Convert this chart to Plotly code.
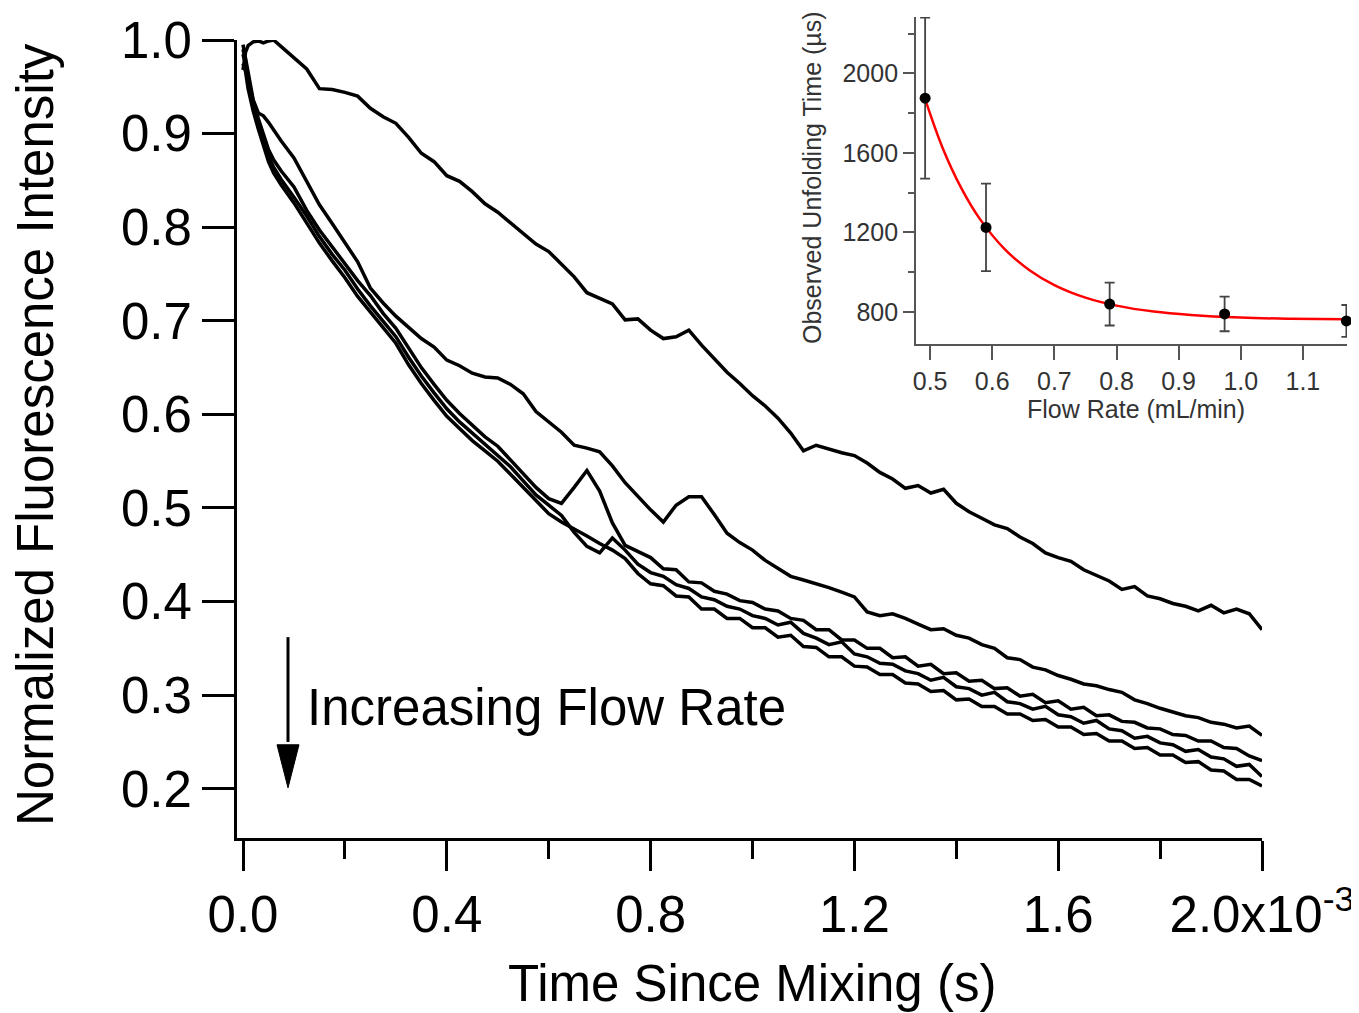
import plotly.graph_objects as go

FONT = "Liberation Sans, Arial, Helvetica, sans-serif"

# time since mixing, ms (axis shows seconds with the x10^-3 factor)
TIME_MS = [0, 0.005, 0.01, 0.02, 0.03, 0.04, 0.05, 0.06, 0.075,
           0.1, 0.125, 0.15, 0.175, 0.2, 0.225, 0.25, 0.275, 0.3, 0.325,
           0.35, 0.375, 0.4, 0.425, 0.45, 0.475, 0.5, 0.525, 0.55, 0.575,
           0.6, 0.625, 0.65, 0.675, 0.7, 0.725, 0.75, 0.775, 0.8, 0.825,
           0.85, 0.875, 0.9, 0.925, 0.95, 0.975, 1.0, 1.025, 1.05, 1.075,
           1.1, 1.125, 1.15, 1.175, 1.2, 1.225, 1.25, 1.275, 1.3, 1.325,
           1.35, 1.375, 1.4, 1.425, 1.45, 1.475, 1.5, 1.525, 1.55, 1.575,
           1.6, 1.625, 1.65, 1.675, 1.7, 1.725, 1.75, 1.775, 1.8, 1.825,
           1.85, 1.875, 1.9, 1.925, 1.95, 1.975, 2.0]

# normalized fluorescence, slowest flow first
TRACE_1 = [0.968, 0.987, 0.994, 0.998, 0.999, 0.997, 0.999, 1.000, 0.993,
           0.981, 0.969, 0.948, 0.947, 0.944, 0.940, 0.927, 0.918, 0.911, 0.896,
           0.879, 0.870, 0.855, 0.849, 0.838, 0.825, 0.816, 0.805, 0.793, 0.782,
           0.774, 0.760, 0.747, 0.730, 0.724, 0.718, 0.701, 0.702, 0.690, 0.681,
           0.683, 0.690, 0.674, 0.659, 0.645, 0.633, 0.620, 0.609, 0.596, 0.580,
           0.561, 0.567, 0.563, 0.559, 0.556, 0.548, 0.538, 0.531, 0.521, 0.524,
           0.516, 0.520, 0.505, 0.496, 0.489, 0.482, 0.478, 0.469, 0.462, 0.452,
           0.447, 0.443, 0.434, 0.428, 0.422, 0.413, 0.416, 0.406, 0.403, 0.398,
           0.395, 0.390, 0.396, 0.388, 0.392, 0.387, 0.370]
TRACE_2 = [0.995, 0.979, 0.963, 0.936, 0.922, 0.919, 0.912, 0.904, 0.892,
           0.874, 0.848, 0.824, 0.804, 0.784, 0.763, 0.735, 0.719, 0.705, 0.693,
           0.681, 0.672, 0.658, 0.652, 0.644, 0.640, 0.639, 0.632, 0.622, 0.603,
           0.592, 0.581, 0.567, 0.564, 0.560, 0.545, 0.527, 0.512, 0.498, 0.485,
           0.503, 0.512, 0.512, 0.493, 0.473, 0.463, 0.455, 0.444, 0.436, 0.427,
           0.423, 0.419, 0.415, 0.410, 0.405, 0.389, 0.385, 0.387, 0.382, 0.376,
           0.370, 0.371, 0.364, 0.361, 0.354, 0.350, 0.340, 0.338, 0.330, 0.327,
           0.321, 0.317, 0.312, 0.310, 0.306, 0.303, 0.295, 0.291, 0.286, 0.282,
           0.278, 0.276, 0.271, 0.269, 0.265, 0.267, 0.257]
TRACE_3 = [0.990, 0.978, 0.959, 0.934, 0.916, 0.898, 0.883, 0.872, 0.860,
           0.843, 0.818, 0.797, 0.779, 0.762, 0.743, 0.727, 0.708, 0.692, 0.671,
           0.650, 0.632, 0.615, 0.601, 0.588, 0.576, 0.566, 0.551, 0.537, 0.522,
           0.510, 0.505, 0.522, 0.540, 0.518, 0.484, 0.460, 0.453, 0.447, 0.435,
           0.434, 0.421, 0.420, 0.411, 0.408, 0.401, 0.399, 0.392, 0.390, 0.382,
           0.380, 0.370, 0.370, 0.359, 0.359, 0.350, 0.350, 0.340, 0.341, 0.331,
           0.333, 0.323, 0.324, 0.315, 0.316, 0.307, 0.308, 0.299, 0.301, 0.292,
           0.294, 0.285, 0.287, 0.278, 0.279, 0.272, 0.271, 0.265, 0.264, 0.258,
           0.257, 0.251, 0.251, 0.244, 0.243, 0.235, 0.230]
TRACE_4 = [0.985, 0.973, 0.954, 0.929, 0.910, 0.892, 0.876, 0.864, 0.851,
           0.832, 0.812, 0.790, 0.771, 0.754, 0.734, 0.716, 0.700, 0.683, 0.661,
           0.641, 0.623, 0.606, 0.592, 0.580, 0.568, 0.557, 0.544, 0.529, 0.514,
           0.503, 0.492, 0.474, 0.459, 0.452, 0.468, 0.455, 0.440, 0.431, 0.427,
           0.418, 0.414, 0.405, 0.402, 0.395, 0.392, 0.385, 0.382, 0.375, 0.378,
           0.366, 0.361, 0.354, 0.357, 0.344, 0.341, 0.334, 0.333, 0.326, 0.323,
           0.316, 0.319, 0.309, 0.307, 0.300, 0.303, 0.293, 0.291, 0.285, 0.288,
           0.279, 0.277, 0.270, 0.273, 0.264, 0.262, 0.254, 0.256, 0.249, 0.247,
           0.240, 0.242, 0.234, 0.232, 0.224, 0.226, 0.213]
TRACE_5 = [0.975, 0.966, 0.948, 0.924, 0.905, 0.886, 0.870, 0.858, 0.845,
           0.826, 0.805, 0.783, 0.764, 0.746, 0.726, 0.709, 0.692, 0.676, 0.653,
           0.633, 0.615, 0.598, 0.585, 0.572, 0.561, 0.550, 0.536, 0.522, 0.507,
           0.494, 0.485, 0.478, 0.470, 0.462, 0.455, 0.446, 0.430, 0.419, 0.417,
           0.406, 0.405, 0.392, 0.392, 0.382, 0.382, 0.372, 0.372, 0.362, 0.364,
           0.352, 0.351, 0.341, 0.341, 0.331, 0.330, 0.322, 0.322, 0.313, 0.312,
           0.304, 0.305, 0.295, 0.296, 0.288, 0.288, 0.280, 0.280, 0.273, 0.274,
           0.266, 0.266, 0.258, 0.259, 0.251, 0.251, 0.243, 0.244, 0.236, 0.236,
           0.228, 0.229, 0.220, 0.219, 0.210, 0.210, 0.203]

X_TICKS = [0, 0.4, 0.8, 1.2, 1.6, 2.0]
X_TICK_TEXT = ["0.0", "0.4", "0.8", "1.2", "1.6", "2.0x10<sup>-3</sup>"]
X_MINOR = [0.2, 0.6, 1.0, 1.4, 1.8]
Y_TICKS = [0.2, 0.3, 0.4, 0.5, 0.6, 0.7, 0.8, 0.9, 1.0]

# inset: observed unfolding time vs flow rate
FLOW = [0.492, 0.590, 0.789, 0.974, 1.170]
TAU_US = [1875, 1225, 840, 790, 755]
TAU_ERR = [405, 220, 108, 87, 80]
FIT_FLOW = [0.492, 0.52, 0.55, 0.58, 0.62, 0.66, 0.70, 0.75, 0.80, 0.86,
            0.92, 1.00, 1.08, 1.17]
FIT_TAU = [1870, 1626, 1424, 1268, 1116, 1010, 935, 872, 832, 802,
           785, 772, 766, 763]

W, H = 1359, 1013
PAGE = 8  # the html body's default margin shifts the figure on screen

# plot-area box in screen pixels
BOX_L, BOX_R, BOX_T, BOX_B = 237, 1349, 10, 838
M_L, M_T = BOX_L - PAGE, BOX_T - PAGE
M_R, M_B = W - (BOX_R - PAGE), H - (BOX_B - PAGE)
PW, PH = BOX_R - BOX_L, BOX_B - BOX_T


def px(x):
    return (x - BOX_L) / PW


def py(y):
    return (BOX_B - y) / PH


fig = go.Figure()
for tr in (TRACE_1, TRACE_2, TRACE_3, TRACE_4, TRACE_5):
    fig.add_trace(go.Scatter(x=TIME_MS, y=tr, mode="lines",
                             line=dict(color="black", width=3.5),
                             xaxis="x", yaxis="y", showlegend=False))

fig.add_trace(go.Scatter(x=FIT_FLOW, y=FIT_TAU, mode="lines",
                         line=dict(color="#ff0000", width=2.5, shape="spline"),
                         xaxis="x2", yaxis="y2", showlegend=False))
fig.add_trace(go.Scatter(x=FLOW, y=TAU_US, mode="markers",
                         marker=dict(color="black", size=11),
                         error_y=dict(type="data", array=TAU_ERR, color="#444",
                                      thickness=1.8, width=5),
                         cliponaxis=False,
                         xaxis="x2", yaxis="y2", showlegend=False))

main_font = dict(family=FONT, size=51, color="black")
inset_font = dict(family=FONT, size=25, color="#333")

# arrow next to the label
ARROW_T = 0.0883
fig.add_shape(type="line", xref="x", yref="y", x0=ARROW_T, x1=ARROW_T,
              y0=0.362, y1=0.25, line=dict(color="black", width=3))
fig.add_shape(type="path", xref="x", yref="y",
              path=f"M{ARROW_T - 0.0216},0.247 L{ARROW_T + 0.0216},0.247 "
                   f"L{ARROW_T},0.201 Z",
              fillcolor="black", line=dict(color="black", width=1))

fig.update_layout(
    width=W, height=H, template="none",
    paper_bgcolor="white", plot_bgcolor="rgba(0,0,0,0)",
    margin=dict(l=M_L, r=M_R, t=M_T, b=M_B),
    xaxis=dict(domain=[0, px(1262)], range=[-0.0118, 2.0],
               tickmode="array", tickvals=X_TICKS, ticktext=X_TICK_TEXT,
               ticks="outside", ticklen=30, tickwidth=3, tickcolor="black",
               minor=dict(tickmode="array", tickvals=X_MINOR, ticks="outside",
                          ticklen=18, tickwidth=3, tickcolor="black"),
               showline=True, linewidth=3, linecolor="black",
               showgrid=False, zeroline=False, tickfont=main_font,
               automargin=False),
    yaxis=dict(domain=[0, py(40)], range=[0.1474, 1.0],
               tickmode="array", tickvals=Y_TICKS,
               ticktext=[f"{v:.1f}" for v in Y_TICKS],
               ticks="outside", ticklen=32, tickwidth=3, tickcolor="black",
               showline=True, linewidth=3, linecolor="black",
               showgrid=False, zeroline=False, tickfont=main_font,
               automargin=False),
    xaxis2=dict(domain=[px(916), px(1347)], range=[0.4773, 1.171],
                anchor="y2", tickmode="linear", tick0=0.5, dtick=0.1,
                tickformat=".1f", ticks="outside", ticklen=14, tickwidth=1.5,
                tickcolor="#555", showline=True, linewidth=1.8,
                linecolor="#555", showgrid=False, zeroline=False,
                tickfont=inset_font, automargin=False),
    yaxis2=dict(domain=[py(344), py(17)], range=[639, 2283],
                anchor="x2", tickmode="array", tickvals=[800, 1200, 1600, 2000],
                ticks="outside", ticklen=11, tickwidth=1.5, tickcolor="#555",
                minor=dict(tickmode="array", tickvals=[1000, 1400, 1800, 2200],
                           ticks="outside", ticklen=6, tickwidth=1.5,
                           tickcolor="#555"),
                showline=True, linewidth=1.8, linecolor="#555",
                showgrid=False, zeroline=False, tickfont=inset_font,
                automargin=False),
    annotations=[
        dict(text="Time Since Mixing (s)", xref="paper", yref="paper",
             x=px(752), y=py(984), xanchor="center", yanchor="middle",
             showarrow=False, font=main_font),
        dict(text="Normalized Fluorescence Intensity", xref="paper",
             yref="paper", x=px(35), y=py(435), xanchor="center",
             yanchor="middle", textangle=-90, showarrow=False, font=main_font),
        dict(text="Increasing Flow Rate", xref="paper", yref="paper",
             x=px(305), y=py(707), xanchor="left", yanchor="middle",
             showarrow=False, font=main_font),
        dict(text="Flow Rate (mL/min)", xref="paper", yref="paper",
             x=px(1136), y=py(409), xanchor="center", yanchor="middle",
             showarrow=False, font=inset_font),
        dict(text="Observed Unfolding Time (µs)", xref="paper", yref="paper",
             x=px(812), y=py(178), xanchor="center", yanchor="middle",
             textangle=-90, showarrow=False, font=inset_font),
    ],
)

fig.write_html("out.html")
